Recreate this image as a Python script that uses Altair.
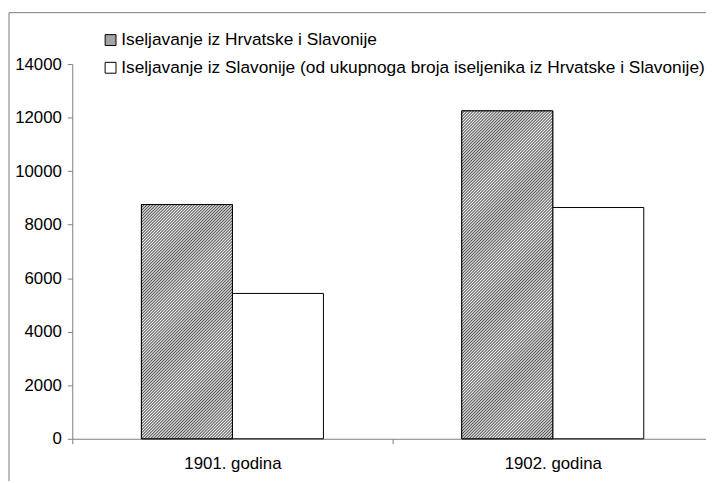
import altair as alt
import pandas as pd

# ---- data ----
years = ["1901. godina", "1902. godina"]
series = [
    "Iseljavanje iz Hrvatske i Slavonije",
    "Iseljavanje iz Slavonije (od ukupnoga broja iseljenika iz Hrvatske i Slavonije)",
]
hrvatska_slavonija = [8750, 12250]
slavonija = [5430, 8640]
y_ticks = [0, 2000, 4000, 6000, 8000, 10000, 12000, 14000]

rows = []
for i, yr in enumerate(years):
    rows.append({"year": yr, "series": series[0], "value": hrvatska_slavonija[i]})
    rows.append({"year": yr, "series": series[1], "value": slavonija[i]})
df = pd.DataFrame(rows)

# ---- layout constants ----
W, H = 648, 379
YMAX = 14000
PAD_OUTER = 0.76
BAR_W = (W / 2) / (2 + 2 * PAD_OUTER)
FONT = "Liberation Sans"
AXIS_GRAY = "#808080"


def hatch(w, h, period=3, dark="#555555", light="#f2f2f2"):
    """Diagonal '/' hatching: a striped linear gradient (period in px along x+y)."""
    n = int((w + h) / period) + 1
    L = n * period
    k = L / (w * w + h * h)
    stops = []
    for j in range(n):
        stops.append(alt.GradientStop(offset=j / n, color=dark))
        stops.append(alt.GradientStop(offset=(j + 0.5) / n, color=light))
    stops.append(alt.GradientStop(offset=1, color=dark))
    return alt.LinearGradient(gradient="linear", stops=stops, x1=0, y1=0, x2=k * w, y2=k * h)


x_enc = alt.X(
    "year:N",
    sort=years,
    scale=alt.Scale(paddingInner=0, paddingOuter=0),
    axis=alt.Axis(
        title=None, labelAngle=0, tickBand="extent", tickSize=5,
        domainColor=AXIS_GRAY, tickColor=AXIS_GRAY, labelFont=FONT,
        labelFontSize=17, labelColor="black", labelPadding=12, grid=False,
    ),
)
xoff_enc = alt.XOffset("series:N", sort=series,
                       scale=alt.Scale(domain=series, paddingInner=0, paddingOuter=PAD_OUTER))
y_enc = alt.Y(
    "value:Q",
    scale=alt.Scale(domain=[0, YMAX], nice=False),
    axis=alt.Axis(
        title=None, values=y_ticks, format="d", tickSize=5, domainColor=AXIS_GRAY,
        tickColor=AXIS_GRAY, labelFont=FONT, labelFontSize=17,
        labelColor="black", labelPadding=6, grid=False,
    ),
)

frame = alt.Chart(pd.DataFrame({"a": [0]})).mark_rect(
    fill="transparent", stroke="#7a7a7a", strokeWidth=1
).encode(x=alt.value(-64), x2=alt.value(900), y=alt.value(-52), y2=alt.value(700))

base = alt.Chart(df).mark_bar(stroke="black", strokeWidth=1).encode(
    x=x_enc,
    xOffset=xoff_enc,
    y=y_enc,
    fill=alt.Fill(
        "series:N",
        scale=alt.Scale(domain=series, range=["#a4a4a4", "#ffffff"]),
        legend=alt.Legend(
            title=None, orient="none", legendX=30, legendY=-33,
            symbolType="square", symbolSize=121, symbolStrokeColor="black",
            symbolStrokeWidth=1, labelFont=FONT, labelFontSize=17.5,
            labelColor="black", rowPadding=9, labelOffset=2, padding=0,
            labelLimit=800,
        ),
    ),
)

layers = [frame, base]
for i, yr in enumerate(years):
    h = hrvatska_slavonija[i] / YMAX * H
    layers.append(
        alt.Chart(df)
        .transform_filter((alt.datum.series == series[0]) & (alt.datum.year == yr))
        .mark_bar(fill=hatch(BAR_W, h), stroke="black", strokeWidth=1)
        .encode(x=x_enc, xOffset=xoff_enc, y=y_enc)
    )

chart = (
    alt.layer(*layers)
    .properties(
        width=W, height=H,
        padding={"left": 65, "top": 54, "right": -7, "bottom": 40},
        autosize=alt.AutoSizeParams(type="none"),
        background="white",
    )
    .configure_view(stroke=None)
)

chart.save("out.html", embed_options={"renderer": "svg", "actions": False})
